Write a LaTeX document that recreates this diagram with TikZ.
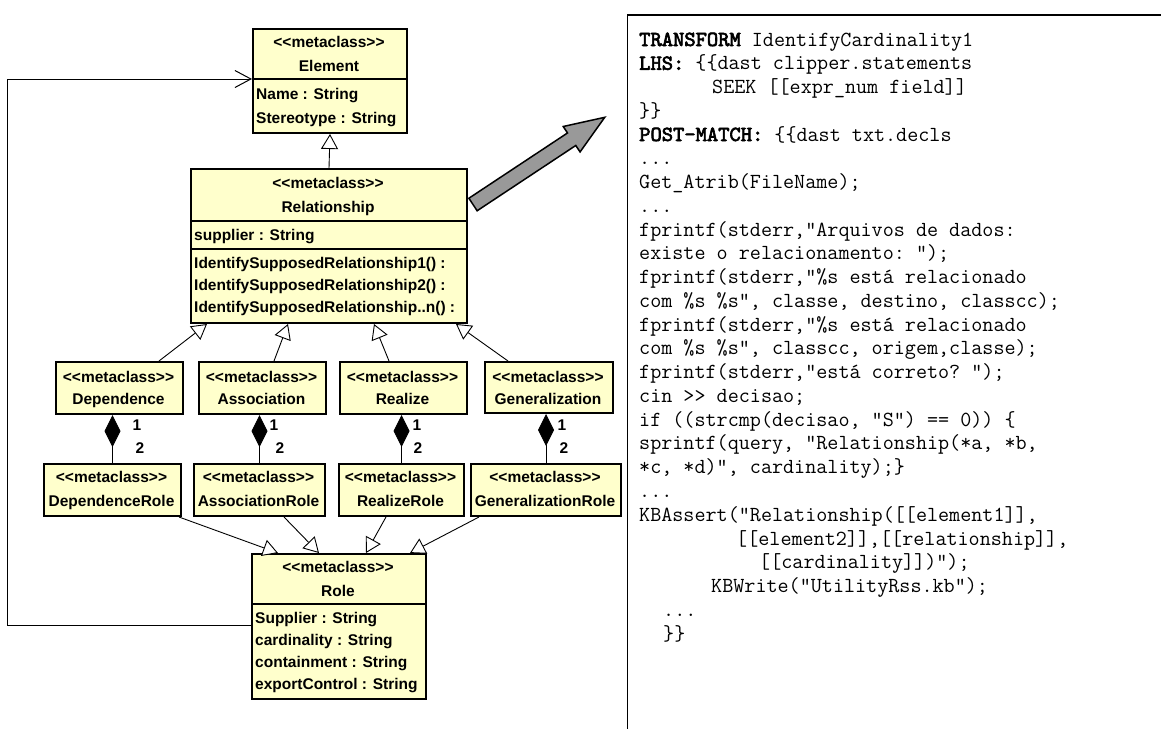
\documentclass[tikz,border=0pt]{standalone}
\usepackage{fontspec}
\newfontfamily\umlsans{Liberation Sans}
\newfontfamily\codebold{lmmono10-regular.otf}[FakeBold=3]
\usetikzlibrary{arrows.meta}

\definecolor{classfill}{HTML}{FFFFCC}
\definecolor{arrowgrey}{HTML}{999999}

\newcommand{\umlfont}{\umlsans\bfseries\fontsize{15.5}{18}\selectfont}
\newcommand{\codefont}{\ttfamily\fontsize{21.5}{24}\selectfont\frenchspacing}
\newcommand{\kw}[1]{{\codebold #1}}

\tikzset{
  classbox/.style={draw=black, line width=2pt, fill=classfill, inner sep=0pt, anchor=north west},
  divider/.style={line width=2pt},
  lbl/.style={font=\umlfont, inner sep=0pt, anchor=base},
  attr/.style={font=\umlfont, inner sep=0pt, anchor=base west},
  mult/.style={font=\umlfont, inner sep=0pt, anchor=base},
  gen/.style={line width=0.9pt, -{Triangle[fill=white, length=15pt, width=17pt, line width=0.9pt]}},
  comp/.style={line width=0.9pt, -{Diamond[length=32pt, width=16pt]}},
  feed/.style={line width=1pt, -{Straight Barb[length=16pt, width=17pt, line width=1pt]}},
  code/.style={font=\codefont, inner sep=0pt, anchor=base west},
  bigarrow/.style={draw=black, line width=1.5pt, fill=arrowgrey, line join=miter},
  panel/.style={line width=1.5pt},
}

\begin{document}
\begin{tikzpicture}[x=1pt, y=1pt]
\fill[white] (0,0) rectangle (1161,-729);
\useasboundingbox (0,0) rectangle (1161,-729);

% ---------- Element ----------
\node[classbox, minimum width=154pt, minimum height=104pt] (element) at (252,-28) {};
\draw[divider] ([yshift=-51pt]element.north west) -- ([yshift=-51pt]element.north east);
\node[lbl] (elst) at (329,-47.5) {<<metaclass>>};
\node[lbl] (elnm) at (329,-71.5) {Element};
\node[attr] (ela1) at (256,-99.5) {Name : String};
\node[attr] (ela2) at (256,-123.5) {Stereotype : String};

% ---------- Relationship ----------
\node[classbox, minimum width=276pt, minimum height=154pt] (rel) at (190,-168) {};
\draw[divider] ([yshift=-53pt]rel.north west) -- ([yshift=-53pt]rel.north east);
\draw[divider] ([yshift=-81pt]rel.north west) -- ([yshift=-81pt]rel.north east);
\node[lbl] (rlst) at (328,-188.5) {<<metaclass>>};
\node[lbl] (rlnm) at (328,-212.5) {Relationship};
\node[attr] (rla1) at (194,-240.5) {supplier : String};
\node[attr] (rlo1) at (194,-268.5) {IdentifySupposedRelationship1() :};
\node[attr] (rlo2) at (194,-290.5) {IdentifySupposedRelationship2() :};
\node[attr] (rlo3) at (194,-312.5) {IdentifySupposedRelationship..n() :};

% ---------- relationship kinds ----------
\node[classbox, minimum width=127pt, minimum height=52pt] (dep) at (55,-361) {};
\node[lbl] (depst) at (118.5,-382.5) {<<metaclass>>};
\node[lbl] (depnm) at (118.5,-404.5) {Dependence};

\node[classbox, minimum width=127pt, minimum height=52pt] (ass) at (198,-361) {};
\node[lbl] (assst) at (261.5,-382.5) {<<metaclass>>};
\node[lbl] (assnm) at (261.5,-404.5) {Association};

\node[classbox, minimum width=127pt, minimum height=52pt] (real) at (339,-361) {};
\node[lbl] (realst) at (402.5,-382.5) {<<metaclass>>};
\node[lbl] (realnm) at (402.5,-404.5) {Realize};

\node[classbox, minimum width=128pt, minimum height=51pt] (gnr) at (484,-361) {};
\node[lbl] (gnrst) at (548,-382.5) {<<metaclass>>};
\node[lbl] (gnrnm) at (548,-404.5) {Generalization};

% ---------- role kinds ----------
\node[classbox, minimum width=137pt, minimum height=52pt] (deprole) at (43,-463) {};
\node[lbl] (deprst) at (111.5,-482.5) {<<metaclass>>};
\node[lbl] (deprnm) at (111.5,-506.5) {DependenceRole};

\node[classbox, minimum width=131pt, minimum height=52pt] (assrole) at (193,-463) {};
\node[lbl] (assrst) at (258.5,-482.5) {<<metaclass>>};
\node[lbl] (assrnm) at (258.5,-506.5) {AssociationRole};

\node[classbox, minimum width=125pt, minimum height=52pt] (realrole) at (338,-463) {};
\node[lbl] (realrst) at (400.5,-482.5) {<<metaclass>>};
\node[lbl] (realrnm) at (400.5,-506.5) {RealizeRole};

\node[classbox, minimum width=150pt, minimum height=52pt] (gnrrole) at (470,-463) {};
\node[lbl] (gnrrst) at (545,-482.5) {<<metaclass>>};
\node[lbl] (gnrrnm) at (545,-506.5) {GeneralizationRole};

% ---------- Role ----------
\node[classbox, minimum width=174pt, minimum height=145pt] (role) at (251,-553) {};
\draw[divider] ([yshift=-51pt]role.north west) -- ([yshift=-51pt]role.north east);
\node[lbl] (rost) at (338,-572.5) {<<metaclass>>};
\node[lbl] (ronm) at (338,-596.5) {Role};
\node[attr] (roa1) at (255,-623.5) {Supplier : String};
\node[attr] (roa2) at (255,-645.5) {cardinality : String};
\node[attr] (roa3) at (255,-667.5) {containment : String};
\node[attr] (roa4) at (255,-689.5) {exportControl : String};

% ---------- generalizations ----------
\draw[gen] (rel.north) -- (element.south);
\draw[gen] ([xshift=39.5pt]dep.north) -- ([xshift=-122pt]rel.south);
\draw[gen] ([xshift=11.5pt]ass.north) -- ([xshift=-41pt]rel.south);
\draw[gen] ([xshift=-14.5pt]real.north) -- ([xshift=45pt]rel.south);
\draw[gen] ([xshift=-41pt]gnr.north) -- ([xshift=127pt]rel.south);

\draw[gen] ([xshift=66.5pt]deprole.south) -- ([xshift=-61pt]role.north);
\draw[gen] ([xshift=24.5pt]assrole.south) -- ([xshift=-20pt]role.north);
\draw[gen] ([xshift=-15.5pt]realrole.south) -- ([xshift=27pt]role.north);
\draw[gen] ([xshift=-67pt]gnrrole.south) -- ([xshift=71pt]role.north);

% ---------- compositions with multiplicities ----------
\draw[comp] (deprole.north) -- (deprole.north |- dep.south);
\draw[comp] (assrole.north) -- (assrole.north |- ass.south);
\draw[comp] (realrole.north) -- (realrole.north |- real.south);
\draw[comp] (gnrrole.north) -- (gnrrole.north |- gnr.south);

\node[mult] (m1a) at (137,-430.5) {1};
\node[mult] (m1b) at (140,-453.5) {2};
\node[mult] (m2a) at (274,-430.5) {1};
\node[mult] (m2b) at (280,-453.5) {2};
\node[mult] (m3a) at (417,-430.5) {1};
\node[mult] (m3b) at (418,-453.5) {2};
\node[mult] (m4a) at (562,-430.5) {1};
\node[mult] (m4b) at (564,-453.5) {2};

% ---------- Role back to Element ----------
\coordinate (fbbot) at (7,-625);
\coordinate (fbtop) at (7,-79);
\draw[feed] (role.west |- fbbot) -- (fbbot) -- (fbtop) -- (element.west |- fbtop);

% ---------- grey arrow towards the transformation ----------
\begin{scope}[shift={(473,-204.5)}, rotate=33.5]
  \draw[bigarrow] (0,7.5) -- (118.3,7.5) -- (118.3,15.25) -- (158,0)
    -- (118.3,-15.25) -- (118.3,-7.5) -- (0,-7.5) -- cycle;
\end{scope}

% ---------- transformation listing ----------
\coordinate (pnr) at (1161,-15);
\coordinate (pnc) at (627.5,-15);
\coordinate (pnb) at (627.5,-729);
\draw[panel] (pnr) -- (pnc) -- (pnb);

\node[code] (l1)  at (639,-46.0)  {\kw{TRANSFORM} IdentifyCardinality1};
\node[code] (l2)  at (639,-69.8)  {\kw{LHS:} \{\{dast clipper.statements};
\node[code] (l3)  at (712,-93.5)  {SEEK [[expr\_num field]]};
\node[code] (l4)  at (639,-117.3) {\}\}};
\node[code] (l5)  at (639,-141.0) {\kw{POST-MATCH:} \{\{dast txt.decls};
\node[code] (l6)  at (639,-164.8) {...};
\node[code] (l7)  at (639,-188.6) {Get\_Atrib(FileName);};
\node[code] (l8)  at (639,-212.3) {...};
\node[code] (l9)  at (639,-236.1) {fprintf(stderr,"Arquivos de dados:};
\node[code] (l10) at (639,-259.8) {existe o relacionamento: ");};
\node[code] (l11) at (639,-283.6) {fprintf(stderr,"\%s está relacionado};
\node[code] (l12) at (639,-307.4) {com \%s \%s", classe, destino, classcc);};
\node[code] (l13) at (639,-331.1) {fprintf(stderr,"\%s está relacionado};
\node[code] (l14) at (639,-354.9) {com \%s \%s", classcc, origem,classe);};
\node[code] (l15) at (639,-378.6) {fprintf(stderr,"está correto? ");};
\node[code] (l16) at (639,-402.4) {cin >> decisao;};
\node[code] (l17) at (639,-426.2) {if ((strcmp(decisao, "S") == 0)) \{};
\node[code] (l18) at (639,-449.9) {sprintf(query, "Relationship(*a, *b,};
\node[code] (l19) at (639,-473.7) {*c, *d)", cardinality);\}};
\node[code] (l20) at (639,-497.4) {...};
\node[code] (l21) at (639,-521.2) {KBAssert("Relationship([[element1]],};
\node[code] (l22) at (736,-545.0) {[[element2]],[[relationship]],};
\node[code] (l23) at (759,-568.7) {[[cardinality]])");};
\node[code] (l24) at (711,-592.5) {KBWrite("UtilityRss.kb");};
\node[code] (l25) at (663,-616.2) {...};
\node[code] (l26) at (663,-640.0) {\}\}};
\end{tikzpicture}
\end{document}
